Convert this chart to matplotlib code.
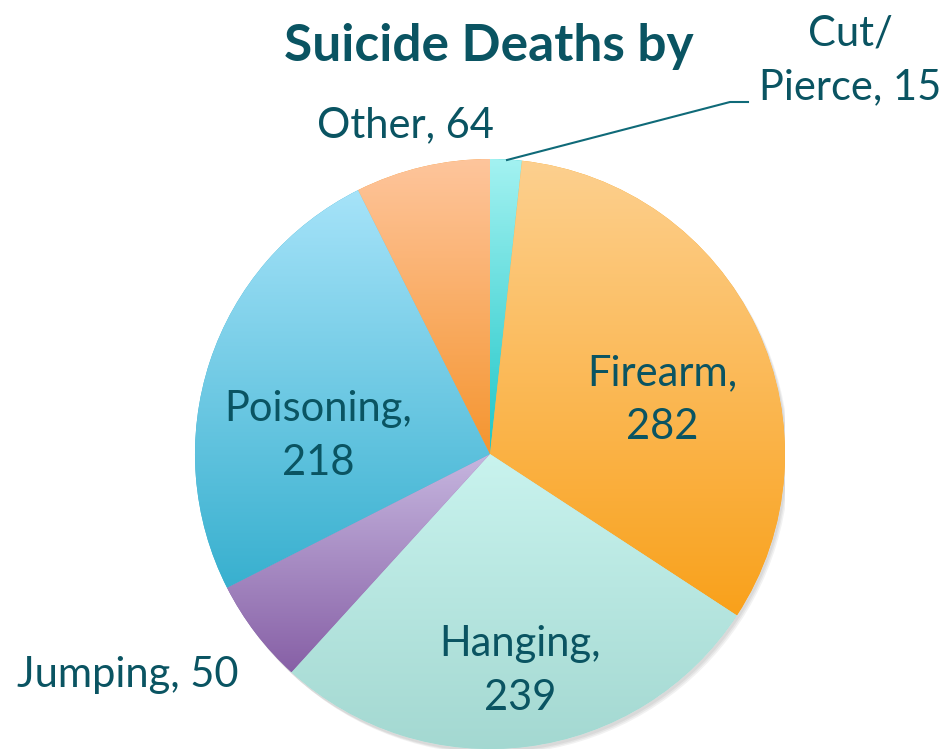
import numpy as np
import matplotlib.pyplot as plt
from matplotlib.colors import to_rgb

labels = ["Cut/\nPierce", "Firearm", "Hanging", "Jumping", "Poisoning", "Other"]
values = [15, 282, 239, 50, 218, 64]
top_colors = ["#A3F2F1", "#FDD08F", "#C9F3EE", "#C6B6DF", "#A6E3F9", "#FEC59C"]
bottom_colors = ["#1FC6C8", "#F9A11B", "#A3D8D1", "#8760A6", "#38B0CF", "#F5952F"]

TEXT = "#0A5462"
W, H = 948, 751
fig = plt.figure(figsize=(W / 100, H / 100), dpi=100)

# pie centre / radius in pixels (from top-left)
cx, cy, r = 490, 454, 295
ax = fig.add_axes([(cx - r) / W, (H - cy - r) / H, 2 * r / W, 2 * r / H])
ax.axis("off")

# soft shadow
for k in range(3):
    sh = plt.Circle((0.006 + 0.004 * k, -0.01 - 0.004 * k), 1.0, color="black", alpha=0.05, lw=0, zorder=0)
    ax.add_patch(sh)
ax.add_patch(plt.Circle((0, 0), 1.0, color="white", lw=0, zorder=0.5))

wedges, _ = ax.pie(values, startangle=90, counterclock=False, radius=1.0,
                   wedgeprops=dict(linewidth=0, edgecolor="none"))

# vertical gradient fill per wedge
for w, ct, cb in zip(wedges, top_colors, bottom_colors):
    verts = w.get_patch_transform().transform(w.get_path().vertices)
    x0, x1 = verts[:, 0].min(), verts[:, 0].max()
    y0, y1 = verts[:, 1].min(), verts[:, 1].max()
    t = np.linspace(0, 1, 256)[:, None]
    c0, c1 = np.array(to_rgb(ct)), np.array(to_rgb(cb))
    grad = (c0[None, :] * (1 - t) + c1[None, :] * t)[:, None, :]
    im = ax.imshow(grad, extent=(x0, x1, y0, y1), origin="upper", aspect="auto",
                   zorder=2, interpolation="bilinear")
    im.set_clip_path(w)
    w.set_facecolor(cb)
ax.set_xlim(-1, 1)
ax.set_ylim(-1, 1)
ax.set_aspect("auto")


def px(x, y):
    return x / W, 1 - y / H


font = "Lato"
fs = 30
ls = 1.5
fig.text(*px(489, 47), "Suicide Deaths by", ha="center", va="center",
         fontsize=37, fontweight="bold", color=TEXT, family=font)

fig.text(*px(850, 60), f"{labels[0]}, {values[0]}", ha="center", va="center",
         fontsize=fs, color=TEXT, family=font, linespacing=ls)
fig.text(*px(662, 400), f"{labels[1]},\n{values[1]}", ha="center", va="center",
         fontsize=fs, color=TEXT, family=font, linespacing=ls)
fig.text(*px(520, 671), f"{labels[2]},\n{values[2]}", ha="center", va="center",
         fontsize=fs, color=TEXT, family=font, linespacing=ls)
fig.text(*px(128, 675), f"{labels[3]}, {values[3]}", ha="center", va="center",
         fontsize=fs, color=TEXT, family=font)
fig.text(*px(318, 436), f"{labels[4]},\n{values[4]}", ha="center", va="center",
         fontsize=fs, color=TEXT, family=font, linespacing=ls)
fig.text(*px(405, 125), f"{labels[5]}, {values[5]}", ha="center", va="center",
         fontsize=fs, color=TEXT, family=font)

# leader line for Cut/Pierce
lx = [507, 730, 748]
ly = [160, 102, 102]
fig.add_artist(plt.Line2D([x / W for x in lx], [1 - y / H for y in ly],
                          color="#0F6A78", lw=1.5))

fig.savefig("out.png", dpi=100)
